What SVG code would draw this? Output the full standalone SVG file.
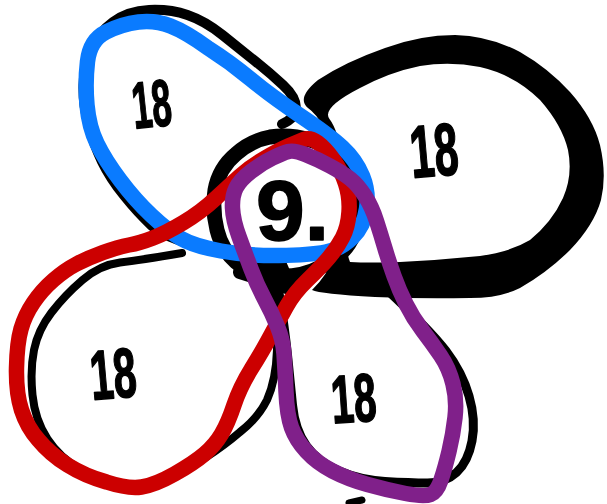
<svg xmlns="http://www.w3.org/2000/svg" width="607" height="504" viewBox="0 0 607 504">
<style>
.ink{fill:none;stroke:#000;stroke-linecap:round;stroke-linejoin:round}
.loop{fill:none;stroke-width:15.5;stroke-linecap:round;stroke-linejoin:round}
.lbl{font-family:"Liberation Sans",Arial,sans-serif;font-weight:bold;fill:#000;stroke:#000;stroke-width:1.6;stroke-linejoin:round}
</style>
<rect width="607" height="504" fill="#fff"/>
<g id="petal-right">
<path fill="#000" fill-rule="evenodd" d="M 318,80 Q 345,62 385,48 Q 420,35 455,35 Q 490,36 520,52 Q 548,68 570,92 Q 593,118 600,145 Q 607,175 601,200 Q 594,225 570,250 Q 548,272 520,288 Q 500,298 470,298 Q 420,299 375,297 Q 320,294 312,290 Q 335,268 340.5,232.5 Q 346,200 335.5,160 Q 325,120 308,108 Q 296,98 318,80 Z M 360,88 Q 390,72 420,66 Q 450,61 480,67 Q 515,75 540,100 Q 562,125 568,150 Q 573,175 563,198 Q 552,222 530,240 Q 510,252 480,256 Q 440,260 400,262 Q 370,263 350,262 Q 345,250 348.5,231 Q 352,200 345,165 Q 338,130 329.5,119 Q 321,108 360,88 Z"/>
</g>
<g id="petal-center">
<path class="ink" stroke-width="15" d="M 310,140 Q 330,145 342.5,160 Q 355,175 358.5,195 Q 362,215 353.5,235 Q 345,255 322.5,266 Q 300,278 275,276 Q 250,274 236,262 Q 222,250 217,230 Q 212,210 215,190 Q 219,168 236,154 Q 250,141 270,137 Q 290,134 310,140 Z"/>
<path class="ink" stroke-width="14" d="M 240,272 L 290,288 L 280,265 Z"/>
</g>
<g id="petal-top-left">
<path class="ink" stroke-width="10" d="M 200,246 Q 165,238 151.5,225.5 Q 138,213 124,195.5 Q 110,178 102,161.5 Q 94,145 88.5,125 Q 83,105 83.5,85 Q 84,65 91,49 Q 98,33 113,22 Q 128,11 149,10 Q 170,9 187.5,15 Q 205,21 222.5,35 Q 240,49 255,61 Q 270,73 283,85 Q 296,97 296,108 Q 296,118 282,124"/>
</g>
<g id="petal-bottom-left">
<path class="ink" stroke-width="8" d="M 182,253 Q 140,260 120,262.5 Q 100,265 82.5,280 Q 65,295 51.5,312.5 Q 38,330 34,350 Q 30,370 32.5,395 Q 35,420 47.5,439 Q 60,458 80,469 Q 100,480 120,484 Q 140,488 162.5,480 Q 185,471 205,458 Q 225,445 240,432 Q 258,418 267,400 Q 276,380 277,350 Q 278,320 275,300 Q 272,285 262,275"/>
</g>
<g id="petal-bottom-right">
<path class="ink" stroke-width="9" d="M 385,288 Q 430,330 446,351 Q 462,372 469,396 Q 476,420 472,441 Q 468,462 456.5,472.5 Q 445,483 427.5,483 Q 410,483 385,481.5 Q 360,480 339,471 Q 318,462 306.5,446 Q 295,430 292.5,405 Q 290,380 287.5,355 Q 285,330 279,293"/>
<path class="ink" stroke-width="7" d="M 349,503 L 362,500"/>
</g>
<g id="labels">
<text class="lbl" x="132" y="127" font-size="66" textLength="39" lengthAdjust="spacingAndGlyphs" transform="rotate(-6 151 103)">18</text>
<text class="lbl" x="410" y="176" font-size="74" textLength="48" lengthAdjust="spacingAndGlyphs" transform="rotate(-5 434 150)">18</text>
<text class="lbl" x="90" y="398" font-size="70" textLength="46" lengthAdjust="spacingAndGlyphs" transform="rotate(-5 113 373)">18</text>
<text class="lbl" x="331" y="422" font-size="68" textLength="45" lengthAdjust="spacingAndGlyphs" transform="rotate(-4 353 398)">18</text>
<text class="lbl" x="256" y="240" font-size="86" textLength="73" lengthAdjust="spacingAndGlyphs">9.</text>
</g>
<g id="connectors">
<path id="loop-blue" class="loop" stroke="#0A7BFF" d="M 106,32 Q 122,24 138.5,22 Q 155,20 170.5,26 Q 186,32 208,48 Q 230,62 250.5,79 Q 271,96 300,115.5 Q 329,135 342.5,147.5 Q 356,160 362.5,176 Q 369,192 366.5,209 Q 364,226 352.5,237.5 Q 341,249 325.5,252 Q 310,255 279,255.5 Q 248,256 221,251 Q 194,246 181,238.5 Q 168,231 151.5,215.5 Q 135,200 120,180 Q 105,160 97,143.5 Q 89,127 87,105 Q 85,83 87.5,61.5 Q 90,40 106,32 Z"/>
<path id="loop-red" class="loop" stroke="#CC0000" d="M 317.5,142.5 Q 325,148 333,159 Q 341,170 345.5,183.5 Q 350,197 349,212 Q 348,227 342.5,237.5 Q 337,248 329,257.5 Q 321,267 307.5,280 Q 294,293 286.5,306.5 Q 279,320 271,335 Q 263,350 251.5,368.5 Q 240,387 234,405 Q 228,423 221.5,434 Q 215,445 204.5,454 Q 194,463 174.5,474 Q 155,485 141.5,487 Q 128,489 106.5,482 Q 85,476 67.5,465 Q 50,454 38.5,440 Q 27,427 21.5,410 Q 16,393 16.5,368 Q 17,343 21,329 Q 25,315 33.5,302.5 Q 42,290 53.5,280 Q 65,270 76.5,264 Q 88,258 103,252.5 Q 118,247 129,245 Q 140,243 153,238 Q 166,233 183.5,222.5 Q 201,212 215.5,198.5 Q 230,185 240,176 Q 250,167 264.5,158.5 Q 279,150 288.5,146 Q 298,142 304,139.5 Q 310,137 317.5,142.5 Z"/>
<path id="loop-purple" class="loop" stroke="#80208A" d="M 305.5,154.5 Q 317,159 330,166 Q 343,173 350.5,179 Q 358,185 365,196 Q 372,207 376.5,221 Q 381,235 385,248.5 Q 389,262 394,276 Q 399,290 406,304 Q 413,318 422.5,330.5 Q 432,343 440.5,355.5 Q 449,368 453,384 Q 457,400 455,417.5 Q 453,435 449,451.5 Q 445,468 441,480 Q 437,492 430.5,494.5 Q 424,497 405.5,493.5 Q 387,490 367.5,484.5 Q 348,479 332.5,471 Q 317,463 306.5,451.5 Q 296,440 291.5,427.5 Q 287,415 286,391.5 Q 285,368 284,354 Q 283,340 277.5,326.5 Q 272,313 264.5,299 Q 257,285 251,269 Q 245,253 239,236.5 Q 233,220 232.5,208 Q 232,196 236,188 Q 240,180 251,171.5 Q 262,163 272.5,158 Q 283,153 288.5,151.5 Q 294,150 305.5,154.5 Z"/>
</g>
</svg>
